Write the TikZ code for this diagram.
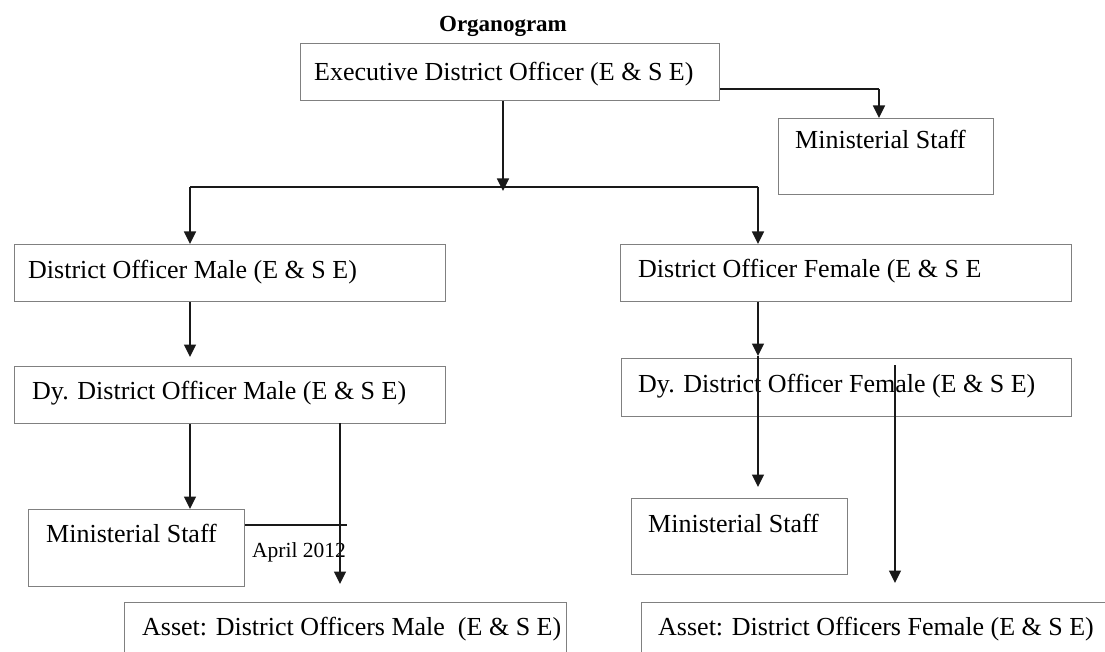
\documentclass[tikz,border=0pt]{standalone}
\usepackage{fontspec}
\setmainfont{Liberation Serif}
\usetikzlibrary{arrows.meta}
\definecolor{boxgray}{RGB}{128,128,128}
\definecolor{lineblk}{RGB}{25,25,25}
\tikzset{
  orgbox/.style={draw=boxgray, line width=1.4pt, anchor=north west, inner sep=0pt, fill=none},
  txt/.style={anchor=base west, inner sep=0pt, font=\fontsize{26}{30}\selectfont, text=black},
  small/.style={anchor=base west, inner sep=0pt, font=\fontsize{21.5}{25}\selectfont, text=black},
  ttl/.style={anchor=base, inner sep=0pt, font=\bfseries\fontsize{23}{27}\selectfont, text=black},
  arr/.style={draw=lineblk, line width=1.6pt, -{Triangle[length=12.5pt,width=12pt]}},
  ln/.style={draw=lineblk, line width=1.3pt},
}
\begin{document}
\begin{tikzpicture}[x=1pt,y=-1pt]
\useasboundingbox (0,0) rectangle (1105,652);
\clip (0,0) rectangle (1105,652);
\fill[white] (0,0) rectangle (1105,652);

% title
\node[ttl] (title) at (503,31.5) {Organogram};

% boxes
\node[orgbox, minimum width=419pt, minimum height=57pt] (exec) at (300,43) {};
\node[orgbox, minimum width=215pt, minimum height=76pt] (mstop) at (778,118) {};
\node[orgbox, minimum width=431pt, minimum height=57pt] (dom) at (14,244) {};
\node[orgbox, minimum width=451pt, minimum height=57pt] (dof) at (620,244) {};
\node[orgbox, minimum width=431pt, minimum height=57pt] (dydom) at (14,366) {};
\node[orgbox, minimum width=450pt, minimum height=58pt] (dydof) at (621,358) {};
\node[orgbox, minimum width=216pt, minimum height=77pt] (msleft) at (28,509) {};
\node[orgbox, minimum width=216pt, minimum height=76pt] (msright) at (631,498) {};
\node[orgbox, minimum width=442pt, minimum height=90pt] (assetm) at (124,602) {};
\node[orgbox, minimum width=480pt, minimum height=90pt] (assetf) at (641,602) {};

% texts
\node[txt] (execT) at (314,81) {Executive District Officer (E \& S E)};
\node[txt] (mstopT) at (795,149) {Ministerial Staff};
\node[txt] (domT) at (28,279) {District Officer Male (E \& S E)};
\node[txt] (dofT) at (638,277) {District Officer Female (E \& S E};
\node[txt] (dydomT) at (32,399) {Dy. District Officer Male (E \& S E)};
\node[txt] (dydofT) at (638,392) {Dy. District Officer Female (E \& S E)};
\node[txt] (msleftT) at (46,542) {Ministerial Staff};
\node[small] (april) at (252,557) {April 2012};
\node[txt] (assetmT) at (142,635) {Asset: District Officers Male\ \ (E \& S E)};
\node[txt] (msrightT) at (648,532) {Ministerial Staff};
\node[txt] (assetfT) at (658,635) {Asset: District Officers Female (E \& S E)};

% junction coordinates
\coordinate (ej) at (879,89);
\coordinate (hj) at (503,187);
\coordinate (hl) at (190,187);
\coordinate (hr) at (758,187);
\coordinate (dydomtip) at (190,357);
\coordinate (dofmid) at (758,356);
\coordinate (msrtip) at (758,487);
\coordinate (dydofr) at (895,365);
\coordinate (assetftip) at (895,583);
\coordinate (dyr) at (340,423);
\coordinate (assetmtip) at (340,584);
\coordinate (lineEnd) at (347,525);

% connectors
\draw[ln] (exec.east |- ej) -- (ej);
\draw[arr] (ej) -- (ej |- mstop.north);
\draw[arr] (exec.south -| hj) -- ([yshift=-4pt]hj);
\draw[ln] (hl) -- (hr);
\draw[arr] (hl) -- (hl |- dom.north);
\draw[arr] (hr) -- (hr |- dof.north);
\draw[arr] (dom.south -| hl) -- (dydomtip);
\draw[arr] (dof.south -| hr) -- (dofmid);
\draw[arr] (dofmid) -- (msrtip);
\draw[arr] (dydofr) -- (assetftip);
\draw[arr] (dydom.south -| hl) -- (hl |- msleft.north);
\draw[arr] (dyr) -- (assetmtip);
\draw[ln] (msleft.east |- lineEnd) -- (lineEnd);
\end{tikzpicture}
\end{document}
